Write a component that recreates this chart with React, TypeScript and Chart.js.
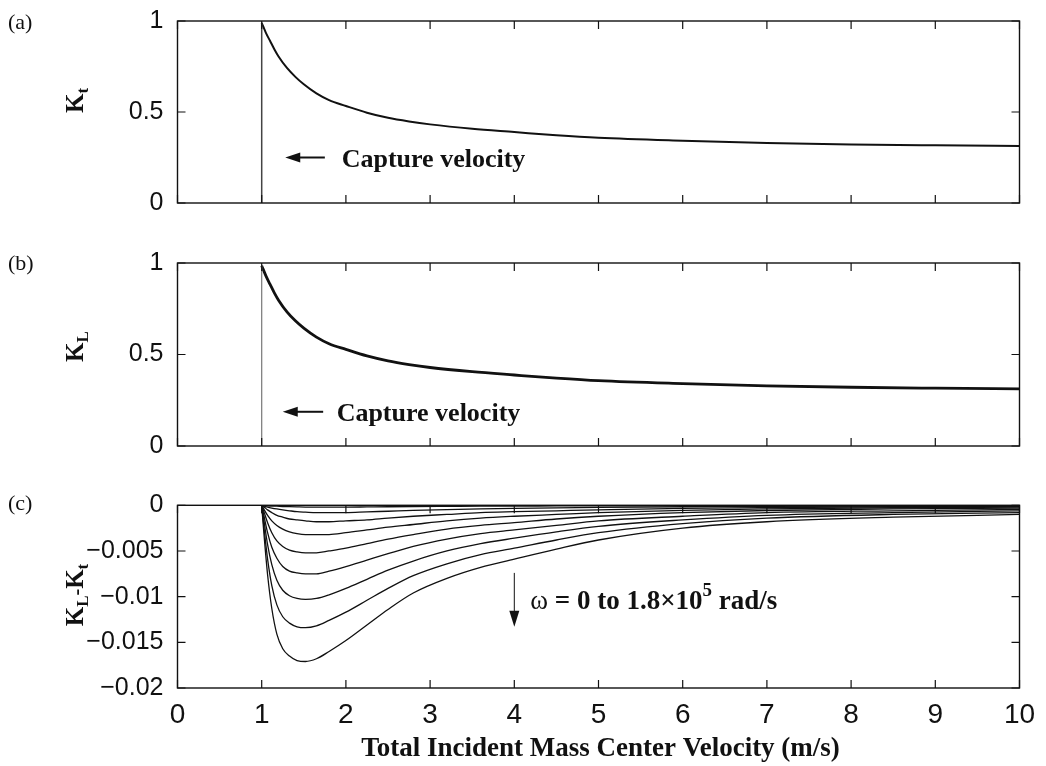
import React, { useEffect, useRef } from 'react';
import { Chart, registerables } from 'chart.js';

Chart.register(...registerables);

// ---------- data ----------
const xTickValues = [0, 1, 2, 3, 4, 5, 6, 7, 8, 9, 10];
const xTickLabels = ['0', '1', '2', '3', '4', '5', '6', '7', '8', '9', '10'];
const yTicksK = [0, 0.5, 1];
const yTickLabelsK = ['0', '0.5', '1'];
const yTicksDiff = [-0.02, -0.015, -0.01, -0.005, 0];
const yTickLabelsDiff = ['\u22120.02', '\u22120.015', '\u22120.01', '\u22120.005', '0'];

const captureVelocity = 1;
const captureTopKt = 0.99;
const captureTopKL = 0.985;

const kX = [1, 1.05, 1.1, 1.15, 1.2, 1.3, 1.4, 1.5, 1.65, 1.8, 2, 2.25, 2.5, 2.75, 3, 3.5, 4, 4.5, 5, 6, 7, 8, 9, 10];
const kT = [0.99, 0.935, 0.89, 0.845, 0.805, 0.742, 0.693, 0.652, 0.602, 0.565, 0.533, 0.496, 0.468, 0.448, 0.432, 0.408, 0.39, 0.372, 0.358, 0.342, 0.33, 0.322, 0.317, 0.313];
const kL = [0.985, 0.93, 0.883, 0.837, 0.797, 0.733, 0.684, 0.644, 0.595, 0.559, 0.528, 0.492, 0.465, 0.445, 0.429, 0.406, 0.388, 0.371, 0.357, 0.341, 0.329, 0.321, 0.316, 0.312];

const diffX = [1, 1.03, 1.07, 1.12, 1.18, 1.25, 1.33, 1.42, 1.52, 1.65, 1.8, 2, 2.25, 2.5, 2.8, 3.2, 3.6, 4, 4.5, 5, 6, 7, 8.5, 10];
const diffW0 = [0, 0, 0, 0, 0, 0, 0, 0, 0, 0, 0, 0, 0, 0, 0, 0, 0, 0, 0, 0, 0, 0, 0, 0];
const diffW2 = [0, -0.00002, -0.00005, -0.00008, -0.0001, -0.00013, -0.00015, -0.00017, -0.00019, -0.0002, -0.0002, -0.0002, -0.00018, -0.00016, -0.00014, -0.00012, -0.0001, -0.00009, -0.00007, -0.00006, -0.00004, -0.00003, -0.00002, -0.000015];
const diffW4 = [0, -0.0001, -0.0002, -0.0003, -0.0004, -0.0005, -0.0006, -0.0007, -0.00075, -0.0008, -0.0008, -0.0008, -0.00072, -0.00065, -0.00056, -0.00047, -0.0004, -0.00034, -0.00028, -0.00023, -0.00016, -0.00012, -0.00008, -0.00006];
const diffW6 = [0, -0.0002, -0.0005, -0.0008, -0.0011, -0.0013, -0.0015, -0.0016, -0.0017, -0.0018, -0.0018, -0.0017, -0.0016, -0.0014, -0.0012, -0.001, -0.0008, -0.0007, -0.0006, -0.0005, -0.00033, -0.00024, -0.00016, -0.00012];
const diffW8 = [0, -0.0005, -0.0011, -0.0017, -0.0022, -0.0026, -0.0029, -0.0031, -0.0032, -0.0032, -0.0032, -0.003, -0.0027, -0.0024, -0.0021, -0.0017, -0.0014, -0.0012, -0.001, -0.0008, -0.00055, -0.0004, -0.00027, -0.0002];
const diffW10 = [0, -0.0008, -0.0019, -0.003, -0.0039, -0.0045, -0.0049, -0.0051, -0.0052, -0.0052, -0.005, -0.0047, -0.0042, -0.0037, -0.0032, -0.0026, -0.0022, -0.0019, -0.0015, -0.0012, -0.0008, -0.00057, -0.0004, -0.0003];
const diffW12 = [0, -0.0013, -0.003, -0.0046, -0.0058, -0.0067, -0.0072, -0.0074, -0.0075, -0.0075, -0.0072, -0.0067, -0.006, -0.0053, -0.0045, -0.0037, -0.0031, -0.0027, -0.0022, -0.0017, -0.0012, -0.0008, -0.0006, -0.00045];
const diffW14 = [0, -0.0019, -0.0043, -0.0065, -0.0082, -0.0093, -0.0099, -0.0102, -0.0103, -0.0102, -0.0098, -0.0091, -0.0081, -0.0071, -0.0061, -0.005, -0.0042, -0.0036, -0.0029, -0.0023, -0.0016, -0.0011, -0.0008, -0.0006];
const diffW16 = [0, -0.0027, -0.0059, -0.0088, -0.0109, -0.0122, -0.0129, -0.0133, -0.0134, -0.0132, -0.0126, -0.0117, -0.0104, -0.0091, -0.0077, -0.0064, -0.0054, -0.0047, -0.0038, -0.003, -0.002, -0.0014, -0.001, -0.0008];
const diffW18 = [0, -0.0035, -0.0076, -0.0113, -0.0141, -0.0157, -0.0165, -0.017, -0.0171, -0.0168, -0.016, -0.0148, -0.0131, -0.0114, -0.0096, -0.008, -0.0068, -0.0059, -0.0048, -0.0038, -0.0025, -0.0018, -0.0013, -0.001];
const diffSeries = [diffW0, diffW2, diffW4, diffW6, diffW8, diffW10, diffW12, diffW14, diffW16, diffW18];

// ---------- drawing helpers ----------
const SANS = '"Liberation Sans", Arial, Helvetica, sans-serif';
const SERIF = '"Liberation Serif", "Times New Roman", serif';
const W = 1046;
const H = 766;
const PLOT_LEFT = 177.5;
const PLOT_RIGHT = 1019.5;
const YAXIS_W = 100;

type Run = { t: string; font: string; dy?: number };

function runsWidth(ctx: CanvasRenderingContext2D, runs: Run[]) {
  let w = 0;
  for (const r of runs) {
    ctx.font = r.font;
    w += ctx.measureText(r.t).width;
  }
  return w;
}
function drawRuns(ctx: CanvasRenderingContext2D, x: number, y: number, runs: Run[]) {
  let cx = x;
  ctx.textAlign = 'left';
  ctx.textBaseline = 'alphabetic';
  for (const r of runs) {
    ctx.font = r.font;
    ctx.fillText(r.t, cx, y + (r.dy || 0));
    cx += ctx.measureText(r.t).width;
  }
}
function drawRotated(ctx: CanvasRenderingContext2D, bx: number, cy: number, runs: Run[]) {
  ctx.save();
  ctx.translate(bx, cy);
  ctx.rotate(-Math.PI / 2);
  const w = runsWidth(ctx, runs);
  drawRuns(ctx, -w / 2, 0, runs);
  ctx.restore();
}
function leftArrow(ctx: CanvasRenderingContext2D, x1: number, x2: number, y: number) {
  ctx.beginPath();
  ctx.moveTo(x1 + 12, y);
  ctx.lineTo(x2, y);
  ctx.lineWidth = 2;
  ctx.stroke();
  ctx.beginPath();
  ctx.moveTo(x1, y);
  ctx.lineTo(x1 + 15, y - 5);
  ctx.lineTo(x1 + 15, y + 5);
  ctx.closePath();
  ctx.fill();
}
function downArrow(ctx: CanvasRenderingContext2D, x: number, y1: number, y2: number) {
  ctx.beginPath();
  ctx.moveTo(x, y1);
  ctx.lineTo(x, y2 - 12);
  ctx.lineWidth = 1;
  ctx.stroke();
  ctx.beginPath();
  ctx.moveTo(x, y2);
  ctx.lineTo(x - 5, y2 - 16);
  ctx.lineTo(x + 5, y2 - 16);
  ctx.closePath();
  ctx.fill();
}

function makeFramePlugin(yTicks: number[], extra: (chart: any) => void) {
  return {
    id: 'frameTicks',
    afterDatasetsDraw(chart: any) {
      const { ctx, chartArea: a, scales } = chart;
      const xs = scales.x;
      const ys = scales.y;
      ctx.save();
      ctx.strokeStyle = '#111';
      ctx.lineWidth = 1.4;
      ctx.strokeRect(a.left, a.top, a.right - a.left, a.bottom - a.top);
      const L = 8;
      ctx.lineWidth = 1.2;
      ctx.beginPath();
      for (const v of xTickValues) {
        const px = xs.getPixelForValue(v);
        ctx.moveTo(px, a.bottom);
        ctx.lineTo(px, a.bottom - L);
        ctx.moveTo(px, a.top);
        ctx.lineTo(px, a.top + L);
      }
      for (const v of yTicks) {
        const py = ys.getPixelForValue(v);
        ctx.moveTo(a.left, py);
        ctx.lineTo(a.left + L, py);
        ctx.moveTo(a.right, py);
        ctx.lineTo(a.right - L, py);
      }
      ctx.stroke();
      ctx.restore();
    },
    afterDraw(chart: any) {
      const ctx = chart.ctx;
      ctx.save();
      ctx.fillStyle = '#111';
      ctx.strokeStyle = '#111';
      extra(chart);
      ctx.restore();
    },
  };
}

function baseOptions(
  top: number,
  bottom: number,
  yMin: number,
  yMax: number,
  yTicks: number[],
  yLabels: string[],
  showX: boolean
) {
  const xHeight = 50;
  return {
    responsive: false,
    animation: false,
    events: [],
    layout: {
      padding: {
        left: PLOT_LEFT - YAXIS_W,
        right: W - PLOT_RIGHT,
        top,
        bottom: showX ? H - bottom - xHeight : H - bottom,
      },
    },
    plugins: { legend: { display: false }, tooltip: { enabled: false } },
    scales: {
      x: {
        type: 'linear',
        min: 0,
        max: 10,
        display: showX,
        afterBuildTicks: (s: any) => {
          s.ticks = xTickValues.map((v) => ({ value: v }));
        },
        afterFit: (s: any) => {
          s.height = showX ? xHeight : 0;
          s.paddingLeft = 0;
          s.paddingRight = 0;
          s.paddingTop = 0;
          s.paddingBottom = 0;
        },
        ticks: {
          callback: (_v: any, i: number) => xTickLabels[i],
          font: { family: SANS, size: 28 },
          color: '#111',
          padding: 10,
          maxRotation: 0,
          autoSkip: false,
        },
        grid: { drawOnChartArea: false, drawTicks: false },
        border: { display: false },
      },
      y: {
        type: 'linear',
        min: yMin,
        max: yMax,
        afterBuildTicks: (s: any) => {
          s.ticks = yTicks.map((v) => ({ value: v }));
        },
        afterFit: (s: any) => {
          s.width = YAXIS_W;
          s.paddingTop = 0;
          s.paddingBottom = 0;
          s.paddingLeft = 0;
          s.paddingRight = 0;
        },
        ticks: {
          callback: (_v: any, i: number) => yLabels[i],
          font: { family: SANS, size: 25 },
          color: '#111',
          padding: 14,
          autoSkip: false,
        },
        grid: { drawOnChartArea: false, drawTicks: false },
        border: { display: false },
      },
    },
  };
}

const pts = (xs: number[], ys: number[]) => xs.map((x, i) => ({ x, y: ys[i] }));

export default function App() {
  const refA = useRef<HTMLCanvasElement>(null);
  const refB = useRef<HTMLCanvasElement>(null);
  const refC = useRef<HTMLCanvasElement>(null);

  useEffect(() => {
    const boldSerif = (n: number) => `bold ${n}px ${SERIF}`;
    const normSerif = (n: number) => `${n}px ${SERIF}`;

    const chartA = new Chart(refA.current as HTMLCanvasElement, {
      type: 'line',
      data: {
        datasets: [
          {
            data: [
              { x: captureVelocity, y: 0 },
              { x: captureVelocity, y: captureTopKt },
            ],
            borderColor: '#444',
            borderWidth: 1.5,
            pointRadius: 0,
          },
          {
            data: pts(kX, kT),
            borderColor: '#111',
            borderWidth: 2,
            pointRadius: 0,
            cubicInterpolationMode: 'monotone',
          },
        ],
      },
      options: baseOptions(21, 203, 0, 1, yTicksK, yTickLabelsK, false) as any,
      plugins: [
        makeFramePlugin(yTicksK, (chart) => {
          const ctx = chart.ctx;
          const xs = chart.scales.x;
          const ys = chart.scales.y;
          ctx.font = normSerif(22);
          ctx.textAlign = 'left';
          ctx.textBaseline = 'alphabetic';
          ctx.fillText('(a)', 8, 29);
          drawRotated(ctx, 83, 100.5, [
            { t: 'K', font: boldSerif(25) },
            { t: 't', font: boldSerif(17), dy: 5 },
          ]);
          const yA = ys.getPixelForValue(0.25);
          leftArrow(ctx, xs.getPixelForValue(1.28), xs.getPixelForValue(1.75), yA);
          drawRuns(ctx, xs.getPixelForValue(1.95), yA + 9, [{ t: 'Capture velocity', font: boldSerif(26) }]);
        }),
      ],
    });

    const chartB = new Chart(refB.current as HTMLCanvasElement, {
      type: 'line',
      data: {
        datasets: [
          {
            data: [
              { x: captureVelocity, y: 0 },
              { x: captureVelocity, y: captureTopKL },
            ],
            borderColor: '#777',
            borderWidth: 1.2,
            pointRadius: 0,
          },
          {
            data: pts(kX, kL),
            borderColor: '#111',
            borderWidth: 2.8,
            pointRadius: 0,
            cubicInterpolationMode: 'monotone',
          },
        ],
      },
      options: baseOptions(263, 446, 0, 1, yTicksK, yTickLabelsK, false) as any,
      plugins: [
        makeFramePlugin(yTicksK, (chart) => {
          const ctx = chart.ctx;
          const xs = chart.scales.x;
          const ys = chart.scales.y;
          ctx.font = normSerif(22);
          ctx.textAlign = 'left';
          ctx.textBaseline = 'alphabetic';
          ctx.fillText('(b)', 8, 270);
          drawRotated(ctx, 83, 346.5, [
            { t: 'K', font: boldSerif(25) },
            { t: 'L', font: boldSerif(17), dy: 5 },
          ]);
          const yB = ys.getPixelForValue(0.187);
          leftArrow(ctx, xs.getPixelForValue(1.25), xs.getPixelForValue(1.73), yB);
          drawRuns(ctx, xs.getPixelForValue(1.89), yB + 9, [{ t: 'Capture velocity', font: boldSerif(26) }]);
        }),
      ],
    });

    const chartC = new Chart(refC.current as HTMLCanvasElement, {
      type: 'line',
      data: {
        datasets: diffSeries.map((s) => ({
          data: pts(diffX, s),
          borderColor: '#111',
          borderWidth: 1.3,
          pointRadius: 0,
          cubicInterpolationMode: 'monotone',
        })),
      },
      options: baseOptions(505.3, 688, -0.02, 0, yTicksDiff, yTickLabelsDiff, true) as any,
      plugins: [
        makeFramePlugin(yTicksDiff, (chart) => {
          const ctx = chart.ctx;
          const xs = chart.scales.x;
          const ys = chart.scales.y;
          ctx.font = normSerif(22);
          ctx.textAlign = 'left';
          ctx.textBaseline = 'alphabetic';
          ctx.fillText('(c)', 8, 510);
          drawRotated(ctx, 83, 595, [
            { t: 'K', font: boldSerif(25) },
            { t: 'L', font: boldSerif(17), dy: 5 },
            { t: '-', font: boldSerif(20) },
            { t: 'K', font: boldSerif(25) },
            { t: 't', font: boldSerif(17), dy: 5 },
          ]);
          downArrow(ctx, xs.getPixelForValue(4), ys.getPixelForValue(-0.0074), ys.getPixelForValue(-0.0133));
          drawRuns(ctx, xs.getPixelForValue(4.19), ys.getPixelForValue(-0.0113), [
            { t: '\u03c9', font: normSerif(27) },
            { t: ' = 0 to 1.8\u00d710', font: boldSerif(27) },
            { t: '5', font: boldSerif(19), dy: -13 },
            { t: ' rad/s', font: boldSerif(27) },
          ]);
          // x-axis title
          ctx.font = boldSerif(27);
          ctx.textAlign = 'center';
          ctx.textBaseline = 'alphabetic';
          ctx.fillText('Total Incident Mass Center Velocity (m/s)', (PLOT_LEFT + PLOT_RIGHT) / 2 + 2, 756);
        }),
      ],
    });

    return () => {
      chartA.destroy();
      chartB.destroy();
      chartC.destroy();
    };
  }, []);

  const cs: React.CSSProperties = { position: 'absolute', left: 0, top: 0, width: W, height: H };
  return (
    <div style={{ position: 'absolute', left: 0, top: 0, width: W, height: H, background: '#fff' }}>
      <canvas ref={refA} width={W} height={H} style={cs} />
      <canvas ref={refB} width={W} height={H} style={cs} />
      <canvas ref={refC} width={W} height={H} style={cs} />
    </div>
  );
}
